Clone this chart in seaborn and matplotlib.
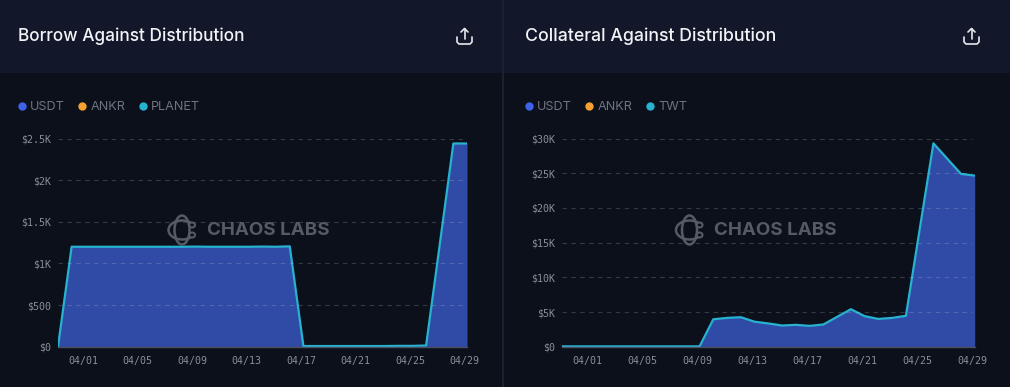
import matplotlib
matplotlib.use('Agg')
import matplotlib.pyplot as plt
from matplotlib.patches import Ellipse, Arc, Rectangle
from matplotlib.ticker import FixedLocator
import numpy as np
import pandas as pd
import seaborn as sns

# values, one per day starting 03/30
borrow_values = [0, 1200, 1200, 1200, 1200, 1200, 1200, 1200, 1200, 1200,
                 1202, 1200, 1200, 1200, 1200, 1202, 1200, 1205, 8, 8,
                 8, 8, 8, 8, 8, 10, 10, 14, 1225, 2440, 2440]
collateral_values = [50, 50, 50, 50, 50, 50, 50, 50, 50, 50,
                     50, 3950, 4150, 4250, 3600, 3350, 3050, 3150, 3000, 3200,
                     4300, 5400, 4400, 4000, 4150, 4450, 16900, 29300, 27100, 24900, 24650]
date_labels = ['04/01', '04/05', '04/09', '04/13', '04/17', '04/21', '04/25', '04/29']
date_index = [2, 6, 10, 14, 18, 22, 26, 30]
borrow_ticks = [0, 500, 1000, 1500, 2000, 2500]
borrow_tick_labels = ['$0', '$500', '$1K', '$1.5K', '$2K', '$2.5K']
collateral_ticks = [0, 5000, 10000, 15000, 20000, 25000, 30000]
collateral_tick_labels = ['$0', '$5K', '$10K', '$15K', '$20K', '$25K', '$30K']
borrow_legend = ['USDT', 'ANKR', 'PLANET']
collateral_legend = ['USDT', 'ANKR', 'TWT']
legend_colors = ['#3f63e8', '#f5a030', '#27b2d0']

BG = '#0c101b'
HEADER = '#12172a'
DIVIDER = '#1a2232'
FILL = '#304ba6'
LINE = '#27b2d0'
W, H = 1010, 387

sns.set_theme(style='dark')
plt.rcParams['font.family'] = ['Inter', 'DejaVu Sans']

fig = plt.figure(figsize=(W / 100, H / 100), dpi=100, facecolor=BG)

# pixel space layer for the card background, titles, legends, icons
back = fig.add_axes([0, 0, 1, 1], zorder=0)
back.set_xlim(0, W)
back.set_ylim(H, 0)
back.axis('off')
back.add_patch(Rectangle((0, 0), W, 73, color=HEADER, lw=0))
back.add_patch(Rectangle((502, 0), 2, H, color=DIVIDER, lw=0))
front = fig.add_axes([0, 0, 1, 1], zorder=5)
front.set_xlim(0, W)
front.set_ylim(H, 0)
front.axis('off')
front.patch.set_alpha(0)


def share_icon(x, y):
    c = '#e6e8ee'
    front.plot([x, x], [y - 7.5, y + 3], color=c, lw=1.2, solid_capstyle='round')
    front.plot([x - 3.5, x, x + 3.5], [y - 4, y - 7.5, y - 4], color=c, lw=1.2, solid_capstyle='round')
    front.plot([x - 7.5, x - 7.5, x - 5.5, x + 5.5, x + 7.5, x + 7.5],
               [y + 1, y + 6, y + 8, y + 8, y + 6, y + 1], color=c, lw=1.2, solid_capstyle='round')


def watermark(x, y):
    c = '#565a65'
    front.add_patch(Ellipse((x, y), 15, 29, fill=False, ec=c, lw=1.8))
    front.add_patch(Arc((x, y), 27, 19, theta1=40, theta2=320, ec=c, lw=1.8))
    front.add_patch(Ellipse((x + 10, y - 5), 6, 5, fill=False, ec=c, lw=1.5))
    front.add_patch(Ellipse((x + 10, y + 5), 6, 5, fill=False, ec=c, lw=1.5))
    front.text(x + 25, y + 0.5, 'CHAOS LABS', color=c, fontsize=13.5, fontweight='bold',
               va='center', ha='left')


def panel(x0, x1, values, ticks, tick_labels, title, title_size, legend, title_x, legend_dots, legend_text, label_shift):
    top, bottom = 138.5, 346.7
    ax = fig.add_axes([x0 / W, 1 - bottom / H, (x1 - x0) / W, (bottom - top) / H], zorder=2)
    ax.patch.set_alpha(0)
    df = pd.DataFrame({'day': np.arange(len(values)), 'value': values})
    ax.fill_between(df['day'], df['value'], 0, color=FILL, lw=0, zorder=2)
    sns.lineplot(data=df, x='day', y='value', ax=ax, color=LINE, linewidth=1.6, zorder=3)
    ax.set_xlim(0, 30)
    ax.set_ylim(0, ticks[-1])
    ax.set_xlabel('')
    ax.set_ylabel('')
    ax.xaxis.set_major_locator(FixedLocator([d - label_shift for d in date_index]))
    ax.set_xticklabels(date_labels, family='DejaVu Sans Mono', fontsize=7.2, color='#8a8e99')
    ax.set_yticks(ticks)
    ax.set_yticklabels(tick_labels, family='DejaVu Sans Mono', fontsize=7.2, color='#8a8e99')
    ax.tick_params(axis='both', length=0)
    ax.tick_params(axis='x', pad=7)
    ax.tick_params(axis='y', pad=5)
    for s in ['top', 'left', 'right']:
        ax.spines[s].set_visible(False)
    ax.spines['bottom'].set_color('#4b5060')
    ax.spines['bottom'].set_linewidth(1)
    ax.spines['bottom'].set_zorder(4)
    for t in ticks[1:]:
        ax.axhline(t, xmax=0.993, color='#c8ccd8', alpha=0.22, lw=0.8, dashes=(4, 4), zorder=4)

    front.text(title_x, 36.5, title, color='#f2f3f6', fontsize=title_size, fontweight='medium', va='center', ha='left')
    for name, col, dx, tx in zip(legend, legend_colors, legend_dots, legend_text):
        front.scatter([dx], [106], s=36, color=col, lw=0)
        front.text(tx, 106.5, name, color='#6f7480', fontsize=9.1, va='center', ha='left')


panel(58, 467, borrow_values, borrow_ticks, borrow_tick_labels, 'Borrow Against Distribution', 12.45,
      borrow_legend, 18, [21.5, 81.5, 142.5], [30, 90.5, 151], 0.17)
panel(562, 974.7, collateral_values, collateral_ticks, collateral_tick_labels, 'Collateral Against Distribution', 12.75,
      collateral_legend, 525, [528.5, 589, 650], [537, 597.5, 658], 0.14)

share_icon(464.5, 36)
share_icon(971.5, 36)
watermark(182, 230)
watermark(689.5, 230)

fig.savefig('out.png', dpi=100, facecolor=BG)
